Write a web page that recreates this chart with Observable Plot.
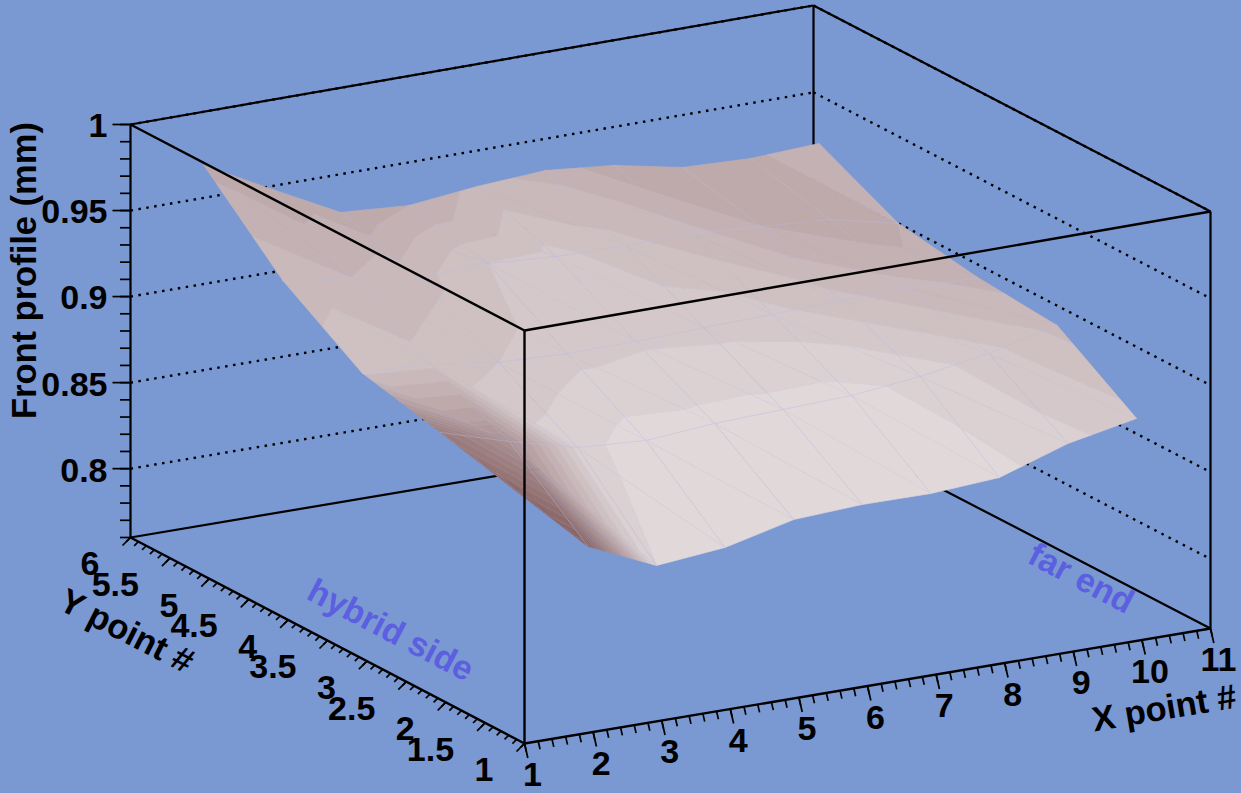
<!DOCTYPE html>
<html><head><meta charset="utf-8">
<style>html,body{margin:0;padding:0;background:#7a98d2;overflow:hidden}svg{display:block}</style>
<script src="https://cdn.jsdelivr.net/npm/d3@7"></script>
<script src="https://cdn.jsdelivr.net/npm/@observablehq/plot@0.6"></script>
</head><body><div id="chart"></div>
<script>
// bin centres of the profile
const xPoints = [1.5,2.5,3.5,4.5,5.5,6.5,7.5,8.5,9.5,10.5];
const yPoints = [5.5,4.5,3.5,2.5,1.5];
// front profile (mm), one row per Y point, far row first
const profileY55 = [.9847,.9639,.9437,.9409,.9451,.9475,.9436,.9356,.9340,.9358];
const profileY45 = [.9418,.9367,.9299,.9312,.9284,.9279,.9281,.9253,.9226,.9135];
const profileY35 = [.9123,.9107,.9045,.9029,.9031,.9044,.9051,.9064,.9065,.9061];
const profileY25 = [.9014,.8894,.8791,.8764,.8795,.8808,.8821,.8863,.8928,.9022];
const profileY15 = [.8934,.8524,.8346,.8383,.8477,.8497,.8493,.8518,.8647,.8724];
// surface lightness read at the same points
const lightY55 = [.60,.58,.56,.62,.70,.66,.58,.60,.60,.68];
const lightY45 = [.73,.68,.72,.80,.82,.76,.70,.62,.58,.62];
const lightY35 = [.75,.76,.80,.84,.85,.84,.82,.76,.70,.66];
const lightY25 = [.22,.40,.90,.95,.94,.94,.94,.90,.82,.72];
const lightY15 = [.08,.02,.92,.97,.96,.95,.97,.94,.88,.82];
const profile = [profileY55,profileY45,profileY35,profileY25,profileY15];
const light = [lightY55,lightY45,lightY35,lightY25,lightY15];
// axes
const xRange=[1,11], yRange=[1,6], zRange=[0.76,1];
const xMajor=[1,2,3,4,5,6,7,8,9,10,11];
const yMajor=[1,1.5,2,2.5,3,3.5,4,4.5,5,5.5,6];
const zMajor=[0.8,0.85,0.9,0.95,1];
const xMinor=d3.range(1,11.01,0.2), yMinor=d3.range(1,6.01,0.1), zMinor=d3.range(0.76,1.001,0.01);

const bg="#7a98d2", ink="#000", noteColor="#5b5fe0", font="'Liberation Sans',Arimo,Helvetica,sans-serif";
// oblique view of the (x, y, z) box
const px=(x,y)=>524+68.6*(x-1)-78.8*(y-1)-0.06*(x-1)*(y-1);
const py=(x,y,z)=>743-11.5*(x-1)-41.2*(y-1)-(z-zRange[0])/(zRange[1]-zRange[0])*(413+0.4*(x-1));
const seg=(a,b)=>({x1:px(a[0],a[1]),y1:py(...a),x2:px(b[0],b[1]),y2:py(...b)});
const [x0,x1]=xRange,[y0,y1]=yRange,[z0,z1]=zRange;

const backEdges=[
 [[x0,y1,z0],[x1,y1,z0]],[[x1,y1,z0],[x1,y0,z0]],
 [[x0,y1,z1],[x1,y1,z1]],[[x1,y1,z1],[x1,y0,z1]],
 [[x0,y1,z0],[x0,y1,z1]],[[x1,y0,z0],[x1,y0,z1]],[[x1,y1,z0],[x1,y1,z1]]
].map(e=>seg(...e));
const frontEdges=[
 [[x0,y0,z0],[x1,y0,z0]],[[x0,y0,z0],[x0,y1,z0]],
 [[x0,y0,z0],[x0,y0,z1]],[[x0,y0,z1],[x1,y0,z1]],[[x0,y0,z1],[x0,y1,z1]]
].map(e=>seg(...e));
const grid=zMajor.flatMap(z=>[seg([x0,y1,z],[x1,y1,z]),seg([x1,y1,z],[x1,y0,z])]);

// surface facets: each triangle of the mesh is clipped into bands of equal colour
const bandEdges=[...d3.range(0,0.5,0.04),...d3.range(0.5,1.06,0.06)];
const mix=(p,q,a)=>({gx:p.gx+a*(q.gx-p.gx),gy:p.gy+a*(q.gy-p.gy),z:p.z+a*(q.z-p.z),t:p.t+a*(q.t-p.t)});
const clip=(poly,level,above)=>{
 const out=[],keep=p=>above?p.t>=level:p.t<=level;
 poly.forEach((p,n)=>{
  const q=poly[(n+1)%poly.length];
  if(keep(p))out.push(p);
  if(keep(p)!==keep(q))out.push(mix(p,q,(level-p.t)/(q.t-p.t)));
 });
 return out;
};
const facets=[];
let id=0;
for(let j=0;j<yPoints.length-1;j++)for(let i=xPoints.length-2;i>=0;i--){
 const v=(a,b)=>({gx:xPoints[a],gy:yPoints[b],z:profile[b][a],t:light[b][a]});
 const A=v(i,j),B=v(i+1,j),C=v(i+1,j+1),D=v(i,j+1);
 for(const tri of [[A,B,C],[A,C,D]]){
  for(let n=0;n<bandEdges.length-1;n++){
   const band=clip(clip(tri,bandEdges[n],true),bandEdges[n+1],false);
   if(band.length<3)continue;
   id++;
   const t=(bandEdges[n]+bandEdges[n+1])/2;
   for(const p of [...band,band[0]])facets.push({id,t,sx:px(p.gx,p.gy),sy:py(p.gx,p.gy,p.z)});
  }
 }
}
const mesh=[];
yPoints.forEach((gy,j)=>xPoints.forEach((gx,i)=>mesh.push({k:"r"+j,sx:px(gx,gy),sy:py(gx,gy,profile[j][i])})));
xPoints.forEach((gx,i)=>yPoints.forEach((gy,j)=>mesh.push({k:"c"+i,sx:px(gx,gy),sy:py(gx,gy,profile[j][i])})));

// ticks
const xt=(v,l)=>{const a=[px(v,y0),py(v,y0,z0)];return{x1:a[0],y1:a[1],x2:a[0]+l*0.23,y2:a[1]+l}};
const yt=(v,l)=>{const a=[px(x0,v),py(x0,v,z0)];return{x1:a[0],y1:a[1],x2:a[0]-l,y2:a[1]+l}};
const zt=(v,l)=>{const a=[px(x0,y1),py(x0,y1,v)];return{x1:a[0],y1:a[1],x2:a[0]-l,y2:a[1]}};
const ticks=[
 ...xMinor.map(v=>xt(v,8)),...xMajor.map(v=>xt(v,14.5)),
 ...yMinor.map(v=>yt(v,4.2)),...yMajor.map(v=>yt(v,8)),
 ...zMinor.map(v=>zt(v,10.5)),...zMajor.map(v=>zt(v,18))
];
const label={fontFamily:font,fontWeight:"bold",fontSize:34,fill:ink};
const link=(data,w,extra={})=>Plot.link(data,{x1:"x1",y1:"y1",x2:"x2",y2:"y2",stroke:ink,strokeWidth:w,...extra});

const chart=Plot.plot({
 width:1241,height:793,margin:0,
 style:{background:bg,fontFamily:font},
 x:{domain:[0,1241],range:[0,1241],axis:null},
 y:{domain:[0,793],range:[0,793],axis:null},
 color:{type:"linear",domain:[0,1],range:["#845e5e","#e6dee0"]},
 marks:[
  link(grid,2.4,{strokeDasharray:"2.5 5.5"}),
  link(backEdges,2.2),
  Plot.line(facets,{x:"sx",y:"sy",z:"id",fill:"t",stroke:"t",strokeWidth:0.7,curve:"linear"}),
  Plot.line(facets,{x:"sx",y:"sy",z:"id",stroke:"#bcbfe0",strokeWidth:0.4,strokeOpacity:0.2,curve:"linear"}),
  Plot.line(mesh.filter(d=>d.k!=="r0"&&d.k!=="r4"&&d.k!=="c0"&&d.k!=="c9"),{x:"sx",y:"sy",z:"k",stroke:"#bcbfe0",strokeWidth:0.6,strokeOpacity:0.5}),
  link(frontEdges,2.4),
  link(ticks,1.7),
  Plot.text(zMajor,{x:()=>px(x0,y1),y:d=>py(x0,y1,d),text:d=>String(d),textAnchor:"end",dx:-23,dy:2,lineAnchor:"middle",...label}),
  Plot.text(yMajor,{x:d=>px(x0,d),y:d=>py(x0,d,z0),text:d=>String(d),textAnchor:"end",dx:-31,dy:27,lineAnchor:"middle",...label}),
  Plot.text(xMajor,{x:d=>px(d,y0),y:d=>py(d,y0,z0),text:d=>String(d),textAnchor:"middle",dx:8,dy:32,lineAnchor:"middle",...label}),
  Plot.text(["Front profile (mm)"],{x:()=>px(x0,y1),y:()=>py(x0,y1,0.9),text:d=>d,rotate:-90,dx:-106,dy:-26,lineAnchor:"middle",...label,fontSize:34.5}),
  Plot.text(["Y point #"],{x:()=>px(x0,3.5),y:()=>py(x0,3.5,z0),text:d=>d,rotate:27,dx:-201,dy:-9,lineAnchor:"middle",...label,fontSize:34.5}),
  Plot.text(["X point #"],{x:()=>px(9,y0),y:()=>py(9,y0,z0),text:d=>d,rotate:-9.5,dx:91,dy:57,lineAnchor:"middle",...label,fontSize:34.5}),
  Plot.text(["hybrid side"],{x:()=>px(x0,3.5),y:()=>py(x0,3.5,z0),text:d=>d,rotate:27.5,dx:63,dy:-10,lineAnchor:"middle",...label,fontSize:34,fill:noteColor}),
  Plot.text(["far end"],{x:()=>px(x1,3.5),y:()=>py(x1,3.5,z0),text:d=>d,rotate:27.5,dx:69,dy:53,lineAnchor:"middle",...label,fontSize:34,fill:noteColor})
 ]
});
document.getElementById("chart").appendChild(chart);
</script></body></html>
